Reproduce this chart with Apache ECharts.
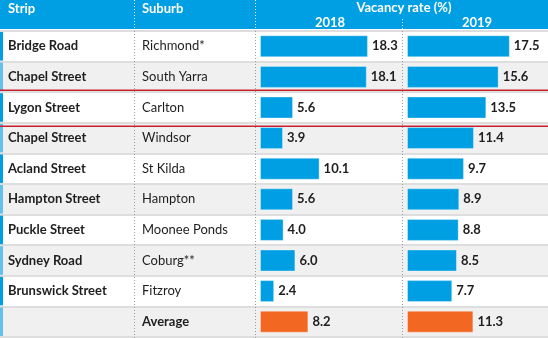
<!DOCTYPE html>
<html>
<head>
<meta charset="utf-8">
<script src="https://cdn.jsdelivr.net/npm/echarts@6/dist/echarts.min.js"></script>
<style>
  html, body { margin: 0; padding: 0; background: #fff; }
  #chart { width: 548px; height: 338px; }
</style>
</head>
<body>
<div id="chart"></div>
<script>
// Retail strip vacancy rates, 2018 vs 2019
const strips = ['Bridge Road', 'Chapel Street', 'Lygon Street', 'Chapel Street', 'Acland Street',
  'Hampton Street', 'Puckle Street', 'Sydney Road', 'Brunswick Street', ''];
const suburbs = ['Richmond*', 'South Yarra', 'Carlton', 'Windsor', 'St Kilda',
  'Hampton', 'Moonee Ponds', 'Coburg**', 'Fitzroy', 'Average'];
const rate2018 = [18.3, 18.1, 5.6, 3.9, 10.1, 5.6, 4.0, 6.0, 2.4, 8.2];
const rate2019 = [17.5, 15.6, 13.5, 11.4, 9.7, 8.9, 8.8, 8.5, 7.7, 11.3];
const yearLabels = ['2018', '2019'];

const FONT = 'Lato';
const BLUE = '#009fe3';
const ORANGE = '#f26722';
const TEXT = '#1e1e1e';
const W = 548, H = 338;
const TOP = 31, ROWS_H = 306;
const rowH = ROWS_H / strips.length;

const chart = echarts.init(document.getElementById('chart'), null, { renderer: 'canvas' });

const rowIdx = strips.map((_, i) => i);

function barSeries(values, gridIdx) {
  return {
    type: 'bar',
    xAxisIndex: gridIdx,
    yAxisIndex: gridIdx,
    data: values,
    barWidth: 22,
    itemStyle: {
      color: p => (suburbs[p.dataIndex] === 'Average' ? ORANGE : BLUE),
      borderColor: 'rgba(255,255,255,0.35)',
      borderWidth: 1
    },
    label: {
      show: true,
      position: 'right',
      distance: 4,
      fontFamily: FONT,
      fontWeight: 'bold',
      fontSize: 13,
      color: TEXT,
      formatter: p => p.value.toFixed(1)
    },
    silent: true,
    animation: false
  };
}

function dotted(x, y1, y2, color) {
  return {
    type: 'line',
    shape: { x1: x, y1: y1, x2: x, y2: y2 },
    style: { stroke: color, lineWidth: 1, lineDash: [1, 2] },
    z: 20
  };
}

const lygon = strips.indexOf('Lygon Street');

const option = {
  animation: false,
  backgroundColor: '#fff',
  grid: [
    { left: 0, top: TOP, width: W, height: ROWS_H },
    { left: 260, top: TOP, width: 141.6, height: ROWS_H },
    { left: 407, top: TOP, width: 141.6, height: ROWS_H }
  ],
  xAxis: [
    { gridIndex: 0, type: 'value', min: 0, max: W, show: false },
    { gridIndex: 1, type: 'value', min: 0, max: 24, show: false },
    { gridIndex: 2, type: 'value', min: 0, max: 24, show: false }
  ],
  yAxis: [
    {
      gridIndex: 0, type: 'category', data: strips, inverse: true,
      axisLine: { show: false }, axisTick: { show: false },
      axisLabel: {
        inside: true, margin: 8, fontFamily: FONT, fontWeight: 'bold',
        fontSize: 13, color: TEXT
      },
      splitArea: { show: true, areaStyle: { color: ['#ffffff', '#f0f0f0'] } },
      splitLine: { show: true, lineStyle: { color: '#dedede', width: 2 } }
    },
    {
      gridIndex: 1, type: 'category', data: suburbs, inverse: true,
      axisLine: { show: false }, axisTick: { show: false }, axisLabel: { show: false }
    },
    {
      gridIndex: 2, type: 'category', data: suburbs, inverse: true,
      axisLine: { show: false }, axisTick: { show: false }, axisLabel: { show: false }
    },
    {
      gridIndex: 0, type: 'category', data: suburbs, inverse: true,
      position: 'left', offset: -134,
      axisLine: { show: false }, axisTick: { show: false },
      axisLabel: {
        inside: true, margin: 8, fontFamily: FONT, fontSize: 13, color: TEXT,
        formatter: v => (v === 'Average' ? '{b|' + v + '}' : v),
        rich: { b: { fontFamily: FONT, fontWeight: 'bold', fontSize: 13, color: TEXT } }
      }
    }
  ],
  series: [
    // left-edge accent strip of each row
    {
      type: 'custom',
      xAxisIndex: 0,
      yAxisIndex: 0,
      data: rowIdx.map(i => [0, i]),
      silent: true,
      renderItem: (params, api) => {
        const i = api.value(1);
        const c = api.coord([0, i]);
        const h = api.size([0, 1])[1];
        return {
          type: 'rect',
          shape: { x: 0, y: c[1] - h / 2 + 1, width: 3, height: h - 2 },
          style: { fill: i % 2 ? '#62c0ec' : BLUE }
        };
      },
      encode: { x: 0, y: 1 }
    },
    barSeries(rate2018, 1),
    barSeries(rate2019, 2)
  ],
  graphic: [
    { type: 'rect', shape: { x: 0, y: 0, width: W, height: 29 }, style: { fill: BLUE }, z: 10 },
    { type: 'text', x: 8, y: 9, style: { text: 'Strip', fill: '#fff', font: 'bold 13px ' + FONT, textVerticalAlign: 'middle' }, z: 11 },
    { type: 'text', x: 142, y: 9, style: { text: 'Suburb', fill: '#fff', font: 'bold 13px ' + FONT, textVerticalAlign: 'middle' }, z: 11 },
    { type: 'text', x: 404, y: 8, style: { text: 'Vacancy rate (%)', fill: '#fff', font: 'bold 13px ' + FONT, textAlign: 'center', textVerticalAlign: 'middle' }, z: 11 },
    { type: 'text', x: 330, y: 23, style: { text: yearLabels[0], fill: '#fff', font: 'bold 13px ' + FONT, textAlign: 'center', textVerticalAlign: 'middle' }, z: 11 },
    { type: 'text', x: 477, y: 23, style: { text: yearLabels[1], fill: '#fff', font: 'bold 13px ' + FONT, textAlign: 'center', textVerticalAlign: 'middle' }, z: 11 },
    dotted(134.5, 0, 29, '#ffffff'),
    dotted(255.5, 0, 29, '#ffffff'),
    dotted(402.5, 19, 29, '#ffffff'),
    dotted(134.5, 31, H, '#9a9a9a'),
    dotted(255.5, 31, H, '#9a9a9a'),
    dotted(402.5, 31, H, '#9a9a9a'),
    // red rules framing the Lygon Street row
    { type: 'line', shape: { x1: 0, y1: TOP + lygon * rowH - 2, x2: W, y2: TOP + lygon * rowH - 2 }, style: { stroke: '#c8202f', lineWidth: 1.5 }, z: 21 },
    { type: 'line', shape: { x1: 0, y1: TOP + (lygon + 1) * rowH + 3.5, x2: W, y2: TOP + (lygon + 1) * rowH + 3.5 }, style: { stroke: '#c8202f', lineWidth: 1.5 }, z: 21 }
  ]
};

chart.setOption(option);
</script>
</body>
</html>
